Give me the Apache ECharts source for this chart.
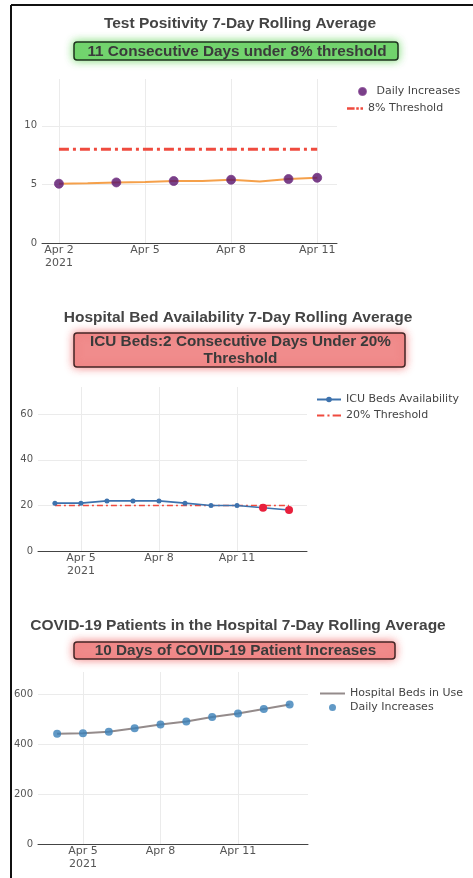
<!DOCTYPE html>
<html>
<head>
<meta charset="utf-8">
<title>COVID-19 7-Day Rolling Averages</title>
<script src="https://cdn.jsdelivr.net/npm/echarts@6/dist/echarts.min.js"></script>
<style>
  html, body { margin: 0; padding: 0; background: #fff; }
  #chart { width: 473px; height: 878px; }
</style>
</head>
<body>
<div id="chart"></div>
<script>
// --- data ---
const positivityDays = ['2021-04-02', '2021-04-03', '2021-04-04', '2021-04-05', '2021-04-06',
  '2021-04-07', '2021-04-08', '2021-04-09', '2021-04-10', '2021-04-11']
const positivityAvg = [5.06, 5.1, 5.17, 5.2, 5.29, 5.3, 5.4, 5.25, 5.46, 5.57]
const positivityPointDays = ['2021-04-02', '2021-04-04', '2021-04-06', '2021-04-08', '2021-04-10', '2021-04-11']
const positivityPoints = [5.06, 5.17, 5.29, 5.4, 5.46, 5.57]
const positivityThreshold = 8

const bedDays = ['2021-04-04', '2021-04-05', '2021-04-06', '2021-04-07', '2021-04-08',
  '2021-04-09', '2021-04-10', '2021-04-11', '2021-04-12', '2021-04-13']
const icuAvailability = [21, 21, 22, 22, 22, 21, 20, 20, 19, 18]
const icuThreshold = 20

const patientDays = bedDays
const bedsInUse = [441, 443, 449, 463, 478, 490, 508, 522, 540, 558]

const xTicksTop = ['2021-04-02', '2021-04-05', '2021-04-08', '2021-04-11']
const xTicksLower = ['2021-04-05', '2021-04-08', '2021-04-11']
const yTicksPositivity = [0, 5, 10]
const yTicksIcu = [0, 20, 40, 60]
const yTicksPatients = [0, 200, 400, 600]

const titles = [
  'Test Positivity 7-Day Rolling Average',
  'Hospital Bed Availability 7-Day Rolling Average',
  'COVID-19 Patients in the Hospital 7-Day Rolling Average',
]
const badges = [
  '11 Consecutive Days under 8% threshold',
  'ICU Beds:2 Consecutive Days Under 20%\nThreshold',
  '10 Days of COVID-19 Patient Increases',
]

// --- helpers ---
const DAY = 86400000
const ts = (s) => Date.parse(s + 'T00:00:00Z')
const aprDay = (d) => Date.UTC(2021, 3, 1) + (d - 1) * DAY
const pairs = (days, vals) => days.map((d, i) => [ts(d), vals[i]])
const MONTHS = ['Jan', 'Feb', 'Mar', 'Apr', 'May', 'Jun', 'Jul', 'Aug', 'Sep', 'Oct', 'Nov', 'Dec']

function dateLabel(first) {
  return (v) => {
    const d = new Date(v)
    const txt = MONTHS[d.getUTCMonth()] + ' ' + d.getUTCDate()
    return v === first ? txt + '\n' + d.getUTCFullYear() : txt
  }
}

const gridLine = { show: true, lineStyle: { color: '#ebebeb', width: 1 } }

function xAxis(gridIndex, min, max, ticks) {
  const vals = ticks.map(ts)
  return {
    type: 'value', gridIndex, min: aprDay(min), max: aprDay(max),
    axisLine: { show: true, onZero: false, lineStyle: { color: '#444', width: 1 } },
    axisTick: { show: false, customValues: vals },
    axisLabel: {
      fontFamily: 'DejaVu Sans', fontSize: 11, color: '#555',
      customValues: vals, margin: 1, lineHeight: 13, formatter: dateLabel(vals[0]),
    },
    splitLine: gridLine,
  }
}

function yAxis(gridIndex, max, ticks) {
  return {
    type: 'value', gridIndex, min: 0, max,
    axisLine: { show: false },
    axisTick: { show: false, customValues: ticks },
    axisLabel: { fontFamily: 'DejaVu Sans', fontSize: 10, color: '#555', customValues: ticks, margin: 5 },
    splitLine: gridLine,
  }
}

function badge(x, y, w, h, text, fill, stroke, glow) {
  return {
    type: 'group', children: [
      {
        type: 'rect', shape: { x, y, width: w, height: h, r: 3 },
        style: { fill, stroke, lineWidth: 1.5, shadowBlur: 8, shadowColor: glow },
      },
      {
        type: 'text', x: x + w / 2 + 1, y: y + h / 2 + 0.5,
        style: {
          text, align: 'center', verticalAlign: 'middle', lineHeight: 17,
          font: 'bold 15.3px "Liberation Sans", Arial, sans-serif', fill: '#3a3a3a',
        },
      },
    ],
  }
}

const chart = echarts.init(document.getElementById('chart'))

const thresholdRed = '#ef4b3f'
const legendText = { fontFamily: 'DejaVu Sans', fontSize: 11, color: '#444' }
const thickDashDot = 'path://M0,0h9v3h-9z M11,0h3v3h-3z M16,0h3v3h-3z'
const thinDashDot = 'path://M0,0h7v2h-7z M10,0h2v2h-2z M15,0h8v2h-8z'
const plainLine = 'path://M0,0h25v2h-25z'

const option = {
  animation: false,
  title: titles.map((t, i) => ({
    text: t, left: [235, 233, 233][i], top: [11, 305, 613][i], textAlign: 'center',
    textStyle: { fontFamily: 'Liberation Sans', fontWeight: 'bold', fontSize: 15.5, color: '#444' },
  })),
  graphic: [
    { type: 'line', shape: { x1: 11, y1: 5, x2: 473, y2: 5 }, style: { stroke: '#111', lineWidth: 2 } },
    { type: 'line', shape: { x1: 11, y1: 5, x2: 11, y2: 878 }, style: { stroke: '#111', lineWidth: 2 } },
    badge(74, 42, 324, 18, badges[0], '#74d470', '#1f331f', 'rgba(90,210,80,0.8)'),
    badge(74, 333, 331, 34, badges[1], '#f08c8c', '#442626', 'rgba(240,100,100,0.8)'),
    badge(74, 642, 321, 17, badges[2], '#f08c8c', '#442626', 'rgba(240,100,100,0.8)'),
  ],
  grid: [
    { left: 42, top: 79, width: 295, height: 164 },
    { left: 38, top: 387, width: 269, height: 164 },
    { left: 38, top: 672, width: 270, height: 172 },
  ],
  xAxis: [
    xAxis(0, 1.41, 11.69, xTicksTop),
    xAxis(1, 3.35, 13.69, xTicksLower),
    xAxis(2, 3.26, 13.71, xTicksLower),
  ],
  yAxis: [
    yAxis(0, 14, yTicksPositivity),
    yAxis(1, 72, yTicksIcu),
    yAxis(2, 688, yTicksPatients),
  ],
  legend: [
    {
      data: [{ name: 'Daily Increases', icon: 'circle' }], left: 358, top: 86, padding: 0,
      itemWidth: 18, itemHeight: 7, textStyle: legendText,
    },
    {
      data: [{ name: '8% Threshold', icon: thickDashDot }], left: 347, top: 103, padding: 0,
      itemWidth: 16, itemHeight: 8, textStyle: legendText,
    },
    {
      data: ['ICU Beds Availability', { name: '20% Threshold', icon: thinDashDot }],
      left: 316, top: 394, orient: 'vertical', padding: 0,
      itemWidth: 24, itemHeight: 7, itemGap: 5, textStyle: legendText,
    },
    {
      data: [{ name: 'Hospital Beds in Use', icon: plainLine }, { name: 'Daily Increases ', icon: 'circle' }],
      left: 320, top: 688, orient: 'vertical', padding: 0,
      itemWidth: 25, itemHeight: 7, itemGap: 3, textStyle: legendText,
    },
  ],
  series: [
    {
      name: '7-Day Average', type: 'line', xAxisIndex: 0, yAxisIndex: 0,
      data: pairs(positivityDays, positivityAvg), showSymbol: false,
      lineStyle: { color: '#f5a04a', width: 2 }, z: 2,
    },
    {
      name: 'Daily Increases', type: 'scatter', xAxisIndex: 0, yAxisIndex: 0,
      data: pairs(positivityPointDays, positivityPoints), symbolSize: 9,
      itemStyle: { color: '#58126a', borderColor: '#7a3a8a', borderWidth: 1 }, z: 3,
    },
    {
      name: '8% Threshold', type: 'line', xAxisIndex: 0, yAxisIndex: 0,
      data: [[ts(positivityDays[0]), positivityThreshold], [ts(positivityDays[positivityDays.length - 1]), positivityThreshold]],
      symbol: 'none', lineStyle: { color: thresholdRed, width: 3, type: [10, 4, 3, 4] },
      itemStyle: { color: thresholdRed },
    },
    {
      name: '20% Threshold', type: 'line', xAxisIndex: 1, yAxisIndex: 1,
      data: [[ts(bedDays[0]), icuThreshold], [ts(bedDays[bedDays.length - 1]), icuThreshold]],
      symbol: 'none', lineStyle: { color: thresholdRed, width: 1.5, type: [6, 3, 2, 3] },
      itemStyle: { color: thresholdRed }, z: 1,
    },
    {
      name: 'ICU Beds Availability', type: 'line', xAxisIndex: 1, yAxisIndex: 1,
      data: pairs(bedDays, icuAvailability).map(([x, y]) => ({
        value: [x, y],
        symbolSize: y < icuThreshold ? 8 : 5,
        itemStyle: { color: y < icuThreshold ? '#e8203c' : '#3d72ad' },
      })),
      symbol: 'circle', showAllSymbol: true,
      lineStyle: { color: '#3d72ad', width: 1.6 }, itemStyle: { color: '#3d72ad' }, z: 3,
    },
    {
      name: 'Hospital Beds in Use', type: 'line', xAxisIndex: 2, yAxisIndex: 2,
      data: pairs(patientDays, bedsInUse), showSymbol: false,
      lineStyle: { color: '#948b8b', width: 2 }, itemStyle: { color: '#948b8b' },
    },
    {
      name: 'Daily Increases ', type: 'scatter', xAxisIndex: 2, yAxisIndex: 2,
      data: pairs(patientDays, bedsInUse), symbolSize: 8,
      itemStyle: { color: '#3a7fb8' }, z: 3,
    },
  ],
}

chart.setOption(option)
</script>
</body>
</html>
